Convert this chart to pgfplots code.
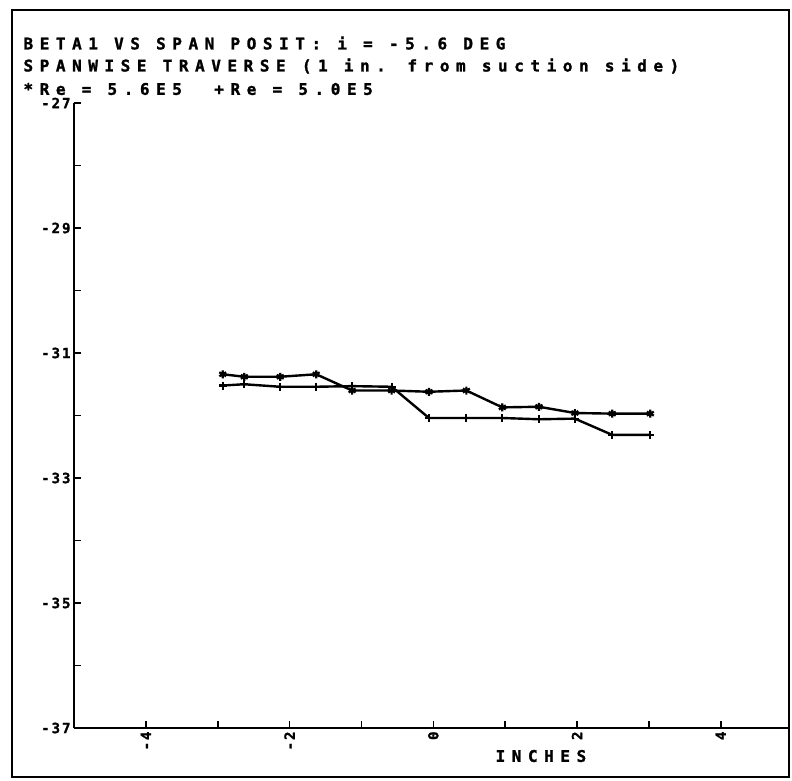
\documentclass[border=0pt]{standalone}
\usepackage{fontspec}
\usepackage{pgfplots}
\pgfplotsset{compat=1.18}
\newfontfamily\plotfont[LetterSpace=41, FakeBold=1.5]{DejaVu Sans Mono Bold}
\newfontfamily\tickfont[LetterSpace=14, FakeBold=1.5]{DejaVu Sans Mono Bold}

% Re = 5.6E5 (asterisk marks)
\pgfplotstableread{
x y
-2.93 -31.34
-2.63 -31.38
-2.13 -31.38
-1.63 -31.34
-1.13 -31.60
-0.58 -31.60
-0.06 -31.62
0.46 -31.60
0.96 -31.87
1.47 -31.86
1.97 -31.96
2.49 -31.97
3.02 -31.97
}\reA
% Re = 5.0E5 (plus marks)
\pgfplotstableread{
x y
-2.93 -31.52
-2.63 -31.50
-2.13 -31.54
-1.63 -31.54
-1.13 -31.53
-0.58 -31.54
-0.06 -32.04
0.46 -32.04
0.96 -32.04
1.47 -32.06
1.97 -32.05
2.49 -32.31
3.02 -32.31
}\reB

\begin{document}
\begin{tikzpicture}[x=1pt,y=1pt]
\path[use as bounding box] (0,0) rectangle (792,-780);
\draw[line width=2pt] (12,-10) rectangle (789,-777);

\node[anchor=west, font=\plotfont\fontsize{16}{16}\selectfont] at (20,-43) {BETA1 VS SPAN POSIT: i = -5.6 DEG};
\node[anchor=west, font=\plotfont\fontsize{16}{16}\selectfont] at (20,-66) {SPANWISE TRAVERSE (1 in. from suction side)};
\node[anchor=west, font=\plotfont\fontsize{16}{16}\selectfont] at (20,-89) {*Re = 5.6E5\ \ +Re = 5.0E5};

\begin{axis}[
    at={(74pt,-728pt)}, anchor=south west,
    scale only axis,
    width=715pt, height=625pt,
    xmin=-5, xmax=4.95,
    ymin=-37, ymax=-27,
    axis x line=bottom, axis y line=left,
    axis line style={-, line width=2.5pt},
    xtick={-4,-2,0,2,4},
    xticklabels={-4,-2,0,2,4},
    minor xtick={-3,-1,1,3},
    ytick={-37,-35,-33,-31,-29,-27},
    yticklabels={-37,-35,-33,-31,-29,-27},
    minor ytick={-36,-34,-32,-30,-28},
    tick align=inside,
    major tick length=7pt, minor tick length=7pt,
    every tick/.style={black, line width=1.6pt},
    xticklabel style={rotate=90, anchor=east, font=\tickfont\fontsize{14}{14}\selectfont},
    yticklabel style={font=\tickfont\fontsize{14}{14}\selectfont},
    xlabel={INCHES},
    xlabel style={at={(axis description cs:0.653,0)}, anchor=center, yshift=-28pt, font=\plotfont\fontsize{16}{16}\selectfont},
    clip=false,
]
\addplot[black, line width=2.4pt, mark=asterisk, mark size=4pt, mark options={line width=2.2pt}] table[x=x,y=y] {\reA};
\addplot[black, line width=2.4pt, mark=+, mark size=4pt, mark options={line width=2.2pt}] table[x=x,y=y] {\reB};
\end{axis}
\end{tikzpicture}
\end{document}
